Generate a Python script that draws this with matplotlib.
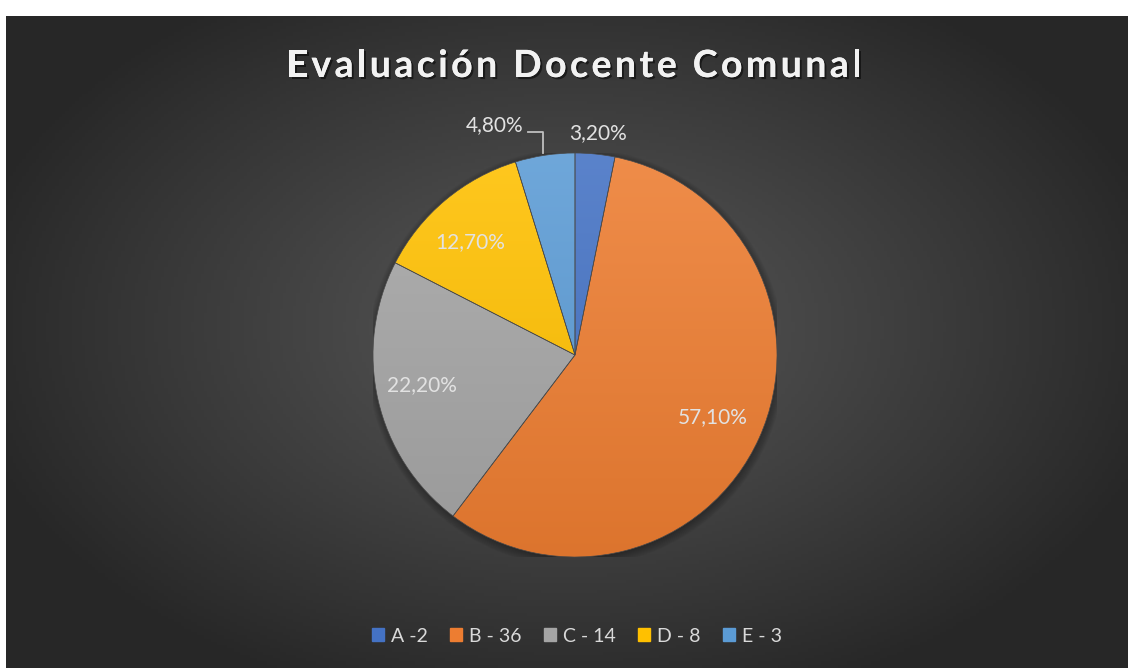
import numpy as np
import matplotlib.pyplot as plt
import matplotlib.patheffects as pe
from matplotlib.colors import to_rgb
from matplotlib.font_manager import FontProperties, findfont
from matplotlib.ft2font import FT2Font
from matplotlib.textpath import TextPath
from matplotlib.patches import PathPatch, Circle
from matplotlib.transforms import IdentityTransform, Affine2D

# data
categories = ["A", "B", "C", "D", "E"]
counts = [2, 36, 14, 8, 3]
percents = [3.2, 57.1, 22.2, 12.7, 4.8]
colors = ["#4472C4", "#ED7D31", "#A5A5A5", "#FFC000", "#5B9BD5"]
title = "Evaluación Docente Comunal"

W, H = 1128, 668
fig = plt.figure(figsize=(W / 100, H / 100), dpi=100)
fig.patch.set_facecolor("white")

# dark radial background (thin white border top/left)
bg = fig.add_axes([6 / W, 0, 1 - 6 / W, 1 - 16 / H])
yy, xx = np.mgrid[0:200, 0:340]
cx, cy = 170, 95
r = np.sqrt(((xx - cx) / 185.0) ** 2 + ((yy - cy) / 120.0) ** 2)
r = np.clip(r, 0, 1)
lum = 0.34 - (0.34 - 0.155) * r ** 1.1
bg.imshow(np.dstack([lum, lum, lum]), aspect="auto", extent=[0, 1, 0, 1])
bg.set_axis_off()

# title with letter spacing, drawn glyph by glyph
fp = FontProperties(family="Lato", weight="bold")
size_px = 37.5
ft = FT2Font(findfont(fp))
ft.set_size(size_px, 72)
adv = [ft.load_char(ord(ch)).linearHoriAdvance / 65536 for ch in title]
spacing = 3.4
total = sum(adv) + spacing * (len(title) - 1)
x = 574 - total / 2
baseline = H - 77
glyphs = []
for ch, a in zip(title, adv):
    if ch != " ":
        glyphs.append(TextPath((x, 0), ch, size=size_px, prop=fp))
    x += a + spacing
for tp in glyphs:
    patch = PathPatch(tp, transform=Affine2D().translate(0, baseline) + IdentityTransform(),
                      facecolor="#f2f2f2", edgecolor="none", lw=0,
                      path_effects=[pe.withSimplePatchShadow(offset=(1.5, -1.5),
                                                             shadow_rgbFace="black", alpha=0.5),
                                    pe.Normal()])
    fig.add_artist(patch)

# pie
cxp, cyp, rad = 575, 355, 202
ax = fig.add_axes([(cxp - rad) / W, (H - cyp - rad) / H, 2 * rad / W, 2 * rad / H])
ax.set_axis_off()
wedges, _ = ax.pie(counts, colors=colors, startangle=90, counterclock=False, radius=1,
                   wedgeprops=dict(edgecolor="#4a4a4a", linewidth=0.5))

# soft shadow under the pie
for k in range(10):
    ax.add_patch(Circle((0.005, -0.012), 0.99 + 0.005 * k, color="black",
                        alpha=0.035, zorder=0, lw=0))

# vertical shading in each slice, lighter at the top
grad = np.linspace(1, 0, 256)[:, None]
for w, c in zip(wedges, colors):
    base = np.array(to_rgb(c))
    top = base + (1 - base) * 0.12
    bot = base * 0.93
    img = top[None, None, :] * grad[:, :, None] + bot[None, None, :] * (1 - grad[:, :, None])
    img = np.repeat(img, 2, axis=1)
    im = ax.imshow(img, extent=[-1, 1, -1, 1], aspect="auto", zorder=w.get_zorder() - 0.01)
    im.set_clip_path(w)
    w.set_facecolor("none")
ax.set_xlim(-1, 1)
ax.set_ylim(-1, 1)

# data labels: (radius, angle in degrees)
label_pos = [(1.105, 84.1), (0.75, -24.2), (0.77, 191.0), (0.765, 132.9), (1.205, 109.2)]
for p, (lr, la) in zip(percents, label_pos):
    t = np.deg2rad(la)
    txt = f"{p:.2f}%".replace(".", ",")
    ax.text(lr * np.cos(t), lr * np.sin(t), txt, ha="center", va="center",
            fontsize=15, color="#e2e2e2", family="Lato", clip_on=False)

# leader line for E
ax.plot([-0.233, -0.158, -0.158], [1.104, 1.104, 1.0], color="#bfbfbf", lw=1.3,
        clip_on=False)

# legend
handles = [plt.Rectangle((0, 0), 1, 1, color=c) for c in colors]
labels = [f"{c} - {n}" if c != "A" else f"{c} -{n}" for c, n in zip(categories, counts)]
leg = fig.legend(handles, labels, loc="center", bbox_to_anchor=(577 / W, 1 - 636 / H),
                 ncol=5, frameon=False, handlelength=0.62, handleheight=0.65,
                 handletextpad=0.35, columnspacing=1.15, labelcolor="#d9d9d9",
                 prop=dict(family="Lato", size=14))

fig.savefig("out.png", dpi=100)
